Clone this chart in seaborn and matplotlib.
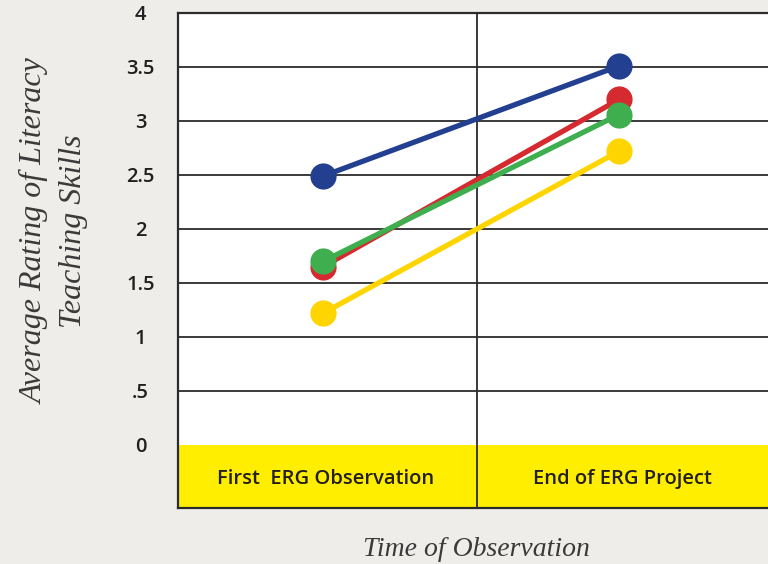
import pandas as pd
import matplotlib.pyplot as plt
import seaborn as sns

# data
times = ["First  ERG Observation", "End of ERG Project"]
groups = ["Yellow", "Blue", "Red", "Green"]
yellow_vals = [1.22, 2.72]
blue_vals = [2.49, 3.51]
red_vals = [1.65, 3.20]
green_vals = [1.70, 3.06]
colors = ["#fed500", "#233f8f", "#d52a30", "#3fae4f"]
ytick_vals = [0, 0.5, 1, 1.5, 2, 2.5, 3, 3.5, 4]
ytick_labels = ["0", ".5", "1", "1.5", "2", "2.5", "3", "3.5", "4"]

rows = []
for g, vals in zip(groups, [yellow_vals, blue_vals, red_vals, green_vals]):
    for t, v in zip(times, vals):
        rows.append({"time": t, "rating": v, "group": g})
df = pd.DataFrame(rows)

sns.set_style("white")
bg = "#eeede9"
fig = plt.figure(figsize=(7.68, 5.64), dpi=100, facecolor=bg)
ax = fig.add_axes([178 / 768, 1 - 508 / 564, 590 / 768, 495 / 564])
ax.set_facecolor("white")

sns.pointplot(data=df, x="time", y="rating", hue="group", hue_order=groups,
              palette=colors, markers="o", markersize=16, linewidth=3.8,
              legend=False, ax=ax, zorder=5)

ymin = -0.584
ax.set_ylim(ymin, 4.0)
ax.set_xlim(-0.49, 1.503)

# yellow category band and grid
ax.axhspan(ymin, 0, color="#ffee00", zorder=1, lw=0)
for v in ytick_vals[1:-1]:
    ax.axhline(v, color="#2b2b2b", lw=1.3, zorder=1)
ax.axvline(0.52, color="#2b2b2b", lw=1.3, zorder=2)

lab_font = dict(family="Open Sans", fontweight="semibold", color="#231f20")
for i, t in enumerate(times):
    ax.text(i + 0.01, -0.32, t, ha="center", va="center", fontsize=14.5,
            zorder=3, **lab_font)

ax.set_xticks([])
ax.set_yticks(ytick_vals)
ax.set_yticklabels(ytick_labels, fontsize=14.5, ha="center", **lab_font)
ax.tick_params(axis="y", length=0, pad=27)

for side in ["top", "left", "bottom"]:
    ax.spines[side].set_color("#2b2b2b")
    ax.spines[side].set_linewidth(1.6)
ax.spines["right"].set_visible(False)

ax.set_ylabel("Average Rating of Literacy\nTeaching Skills", family="Liberation Serif",
              style="italic", fontsize=23, color="#3a3a3a", linespacing=1.4)
ax.yaxis.set_label_coords(-0.153, 0.56)
ax.set_xlabel("Time of Observation", family="Liberation Serif", style="italic",
              fontsize=20, color="#3a3a3a")
ax.xaxis.set_label_coords(0.505, -0.058)

fig.savefig("out.png", dpi=100, facecolor=bg)
